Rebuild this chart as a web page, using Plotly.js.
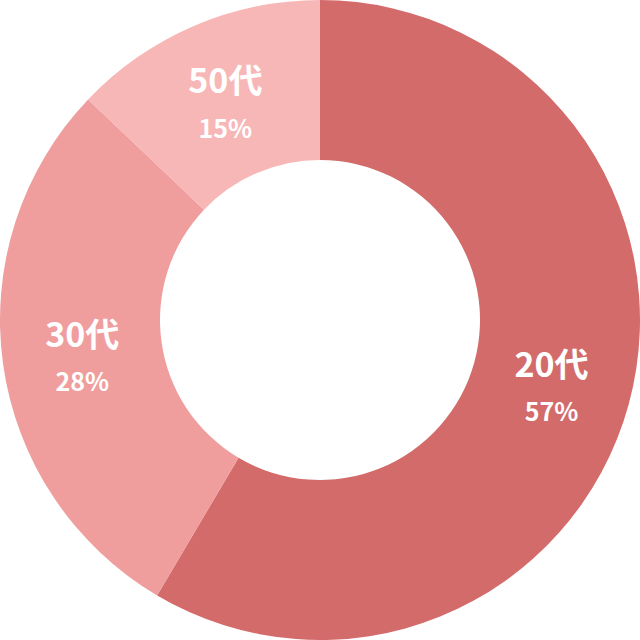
<!DOCTYPE html>
<html>
<head>
<meta charset="utf-8">
<script src="https://cdn.plot.ly/plotly-3.0.1.min.js"></script>
<style>
  html, body { margin: 0; padding: 0; background: #ffffff; }
  #chart { width: 640px; height: 640px; }
</style>
</head>
<body>
<div id="chart"></div>
<script>
// age groups, slice sizes as drawn, and printed percentages
var ageGroups = ['20代', '30代', '50代'];
var shares = [58.5, 28.6, 12.9];
var shareLabels = ['57%', '28%', '15%'];
var sliceColors = ['#d46b6b', '#ef9d9d', '#f8b7b7'];

var labelText = ageGroups.map(function (g, i) {
  return '<b>' + g + '</b><br><b><span style="font-size:25px">' + shareLabels[i] + '</span></b>';
});

var trace = {
  type: 'pie',
  labels: ageGroups,
  values: shares,
  text: labelText,
  textinfo: 'text',
  textposition: 'inside',
  insidetextorientation: 'horizontal',
  hole: 0.5,
  sort: false,
  direction: 'clockwise',
  rotation: 0,
  marker: {
    colors: sliceColors,
    line: { width: 0 }
  },
  insidetextfont: {
    family: '"Noto Sans CJK JP", "Noto Sans", sans-serif',
    size: 34,
    color: '#ffffff'
  },
  hoverinfo: 'none'
};

var layout = {
  width: 640,
  height: 640,
  margin: { l: 0, r: 0, t: 0, b: 0 },
  showlegend: false,
  paper_bgcolor: '#ffffff'
};

Plotly.newPlot('chart', [trace], layout, { displayModeBar: false, staticPlot: true });
</script>
</body>
</html>
